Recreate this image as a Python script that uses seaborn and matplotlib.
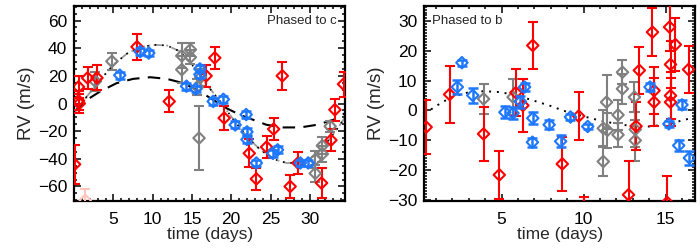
import numpy as np
import pandas as pd
import seaborn as sns
import matplotlib.pyplot as plt
from matplotlib.ticker import MultipleLocator

# ---- panel c (left) ----
c_red_t = [0.05, 0.55, 0.55, 0.65, 1.7, 2.9, 8.0, 12.1, 16.8, 17.9, 19.1, 22.3, 23.2, 24.5, 25.4, 26.5, 27.5, 28.5, 31.5, 32.7, 33.2, 34.3]
c_red_rv = [-44, 12, 2, 0, 18.5, 18.5, 41, 1.5, 20, 33, -10.5, -36, -54.5, -31.5, -18.5, 20, -60, -43, -57.5, -26.5, -4.5, 14]
c_red_err = [14, 8, 7, 7, 8, 9, 9.5, 8, 8, 8, 9, 10, 8, 8, 8, 10, 8, 8, 11, 8, 8, 9]

c_pink_t = [1.4]
c_pink_rv = [-70]
c_pink_err = [8]

c_gray_t = [2.7, 4.8, 13.7, 13.7, 14.8, 14.8, 15.7, 15.9, 16.1, 30.7, 30.7, 31.6, 31.6, 32.6]
c_gray_rv = [16, 30.5, 24.5, 34.5, 39, 33.5, 12, -25, 19, -40.5, -50.5, -36.5, -30.5, -16.5]
c_gray_err = [7, 6, 10, 9, 5, 5, 6, 23, 6, 6, 6, 6, 6, 4]

c_blue_t = [5.8, 8.4, 9.5, 14.3, 15.5, 16.0, 16.0, 17.7, 19.0, 20.5, 21.9, 22.0, 22.0, 23.2, 25.3, 25.9, 28.8, 29.8]
c_blue_rv = [20.5, 37.5, 36.5, 12.5, 10.5, 25, 21, 1.5, 3, -15.5, -8, -20.5, -26, -43, -36, -33.5, -43, -43]
c_blue_err = [2.5] * 18

c_dash_t = [0, 1.6, 3.3, 5.4, 7.5, 9.7, 11.8, 13.9, 16, 17.7, 19.4, 21.1, 22.8, 24.5, 26.6, 28.8, 30.9, 33, 34.5]
c_dash_rv = [-6, 2.6, 8.7, 14.7, 17.8, 19, 17.8, 14.7, 8.7, 2.6, -3.4, -8.2, -11.8, -15.4, -17.3, -17.3, -15.4, -11.8, -7]

c_fit_t = [0, 1.6, 3.3, 5, 6.7, 8.4, 10.1, 11.8, 13.5, 15.2, 16.9, 18.6, 20.3, 22, 23.7, 25.4, 27.1, 28.8, 30.4, 32.1, 33.4, 34.5]
c_fit_rv = [-7, 5, 17, 28, 36, 40.7, 42.4, 42, 37.6, 26.7, 13.5, 1.4, -11.8, -23.9, -33.5, -40.2, -43.1, -42.6, -38.3, -28.7, -19, -10]

# ---- panel b (right) ----
b_red_t = [0.4, 1.83, 3.9, 4.86, 5.87, 6.3, 6.9, 8.7, 9.7, 10.05, 12.74, 13.2, 13.4, 14.2, 14.3, 14.3, 15.1, 15.24, 15.3, 15.3, 15.3, 15.6, 16.4]
b_red_rv = [-5.6, 5.4, -7.9, -21.7, 6.0, 1.7, 21.9, -18, -1.9, -37, -28.4, -5.3, 13.5, 26.4, 6.7, 2.8, -31, 28.1, 15.5, 5, 2.8, 22.2, 13.8]
b_red_err = [9, 9.5, 9, 8, 8, 9, 8, 9, 8, 8, 11.5, 8, 8, 8, 8, 8, 9, 8, 8, 8, 8, 9, 8]

b_gray_t = [3.9, 5.7, 11.2, 11.2, 11.4, 11.45, 12.1, 12.1, 12.37, 12.37, 13.1, 13.15, 13.15]
b_gray_rv = [3.9, 4.5, -17.2, -6, 2.8, -6.7, -1.5, -8.2, 12.9, 7.3, 4.5, -6.4, -10.1]
b_gray_err = [5, 6, 5, 6, 9, 6, 5, 4, 4, 5, 5, 6, 7]

b_blue_t = [2.3, 2.58, 3.24, 5.2, 5.7, 6.15, 6.4, 6.9, 6.88, 7.9, 8.6, 9.2, 10.25, 14.05, 15.2, 16.0, 15.8, 16.45]
b_blue_rv = [7.9, 16.1, 5.1, -0.6, -0.9, 3.0, 7.9, -2.6, -10.7, -4.8, -10.4, -2.2, -5.4, 7.9, -4.5, 1.9, -11.8, -16]
b_blue_err = [2.5, 1, 2.5, 2, 2, 2, 1.5, 2, 1.5, 1.5, 2, 1, 1, 1.5, 1, 1.5, 2, 2.5]

b_fit_t = [0.3, 1.06, 1.87, 2.9, 3.9, 4.9, 5.9, 6.9, 7.9, 8.9, 9.95, 11, 12, 13, 14, 15, 16, 16.8]
b_fit_rv = [-1.1, 1.7, 4.3, 6, 6.5, 6.2, 5.1, 3.4, 1.7, -0.3, -1.9, -3.4, -4.5, -5.3, -5.4, -4.7, -3.4, -2.2]

RED = "#ff0000"
BLUE = "#1e78ff"
GRAY = "#808080"
PINK = "#ffc4bc"

sns.set_theme(style="ticks")
plt.rcParams["font.family"] = ["Liberation Sans", "DejaVu Sans"]


def points(ax, t, rv, err, col, lw=1.5, z=3):
    ax.errorbar(t, rv, yerr=err, fmt="none", ecolor=col, elinewidth=lw,
                capsize=3.5, capthick=lw, zorder=z)
    df = pd.DataFrame({"t": t, "rv": rv})
    sns.scatterplot(data=df, x="t", y="rv", ax=ax, marker="D", s=34,
                    facecolors="none", edgecolor=col, linewidth=1.5,
                    zorder=z + 0.5, legend=False)


def habiller(ax, xlim, ylim, xmaj, ymaj, ymin):
    ax.set_xlim(xlim)
    ax.set_ylim(ylim)
    ax.xaxis.set_major_locator(MultipleLocator(xmaj))
    ax.xaxis.set_minor_locator(MultipleLocator(1))
    ax.yaxis.set_major_locator(MultipleLocator(ymaj))
    ax.yaxis.set_minor_locator(MultipleLocator(ymin))
    ax.tick_params(which="both", direction="in", top=True, right=True,
                   labelsize=12.5, width=1.1, colors="black")
    ax.tick_params(axis="x", pad=8)
    ax.tick_params(axis="y", pad=5)
    ax.tick_params(which="major", length=5)
    ax.tick_params(which="minor", length=2.5)
    for s in ax.spines.values():
        s.set_linewidth(1.6)
        s.set_color("black")
    ax.set_xlabel("time (days)", fontsize=12.5, labelpad=0)
    ax.set_ylabel("RV (m/s)", fontsize=13.5, labelpad=2)


fig = plt.figure(figsize=(7, 2.5), dpi=100)
ax1 = fig.add_axes([0.106, 0.196, 0.387, 0.78])
ax2 = fig.add_axes([0.606, 0.196, 0.387, 0.78])

# left
sns.lineplot(x=c_dash_t, y=c_dash_rv, ax=ax1, color="black", lw=1.5,
             linestyle=(0, (6, 4)), sort=False, zorder=2)
sns.lineplot(x=c_fit_t, y=c_fit_rv, ax=ax1, color="#9a9a9a", lw=1.3,
             linestyle=(0, (5, 2, 1, 2)), sort=False, zorder=2)
sns.lineplot(x=c_fit_t, y=c_fit_rv, ax=ax1, color="black", lw=1.2,
             linestyle=(2, (1, 3.5)), sort=False, zorder=2)
points(ax1, c_pink_t, c_pink_rv, c_pink_err, PINK)
points(ax1, c_gray_t, c_gray_rv, c_gray_err, GRAY)
points(ax1, c_red_t, c_red_rv, c_red_err, RED)
points(ax1, c_blue_t, c_blue_rv, c_blue_err, BLUE, lw=1.8, z=4)
habiller(ax1, (0, 34.5), (-70.5, 70.5), 5, 20, 5)
ax1.set_xticks([5, 10, 15, 20, 25, 30])
ax1.text(0.97, 0.955, "Phased to c", transform=ax1.transAxes, ha="right",
         va="top", fontsize=9.5)

# right
sns.lineplot(x=b_fit_t, y=b_fit_rv, ax=ax2, color="black", lw=1.4,
             linestyle=(0, (1, 3)), sort=False, zorder=2)
points(ax2, b_gray_t, b_gray_rv, b_gray_err, GRAY)
points(ax2, b_red_t, b_red_rv, b_red_err, RED)
points(ax2, b_blue_t, b_blue_rv, b_blue_err, BLUE, lw=1.8, z=4)
habiller(ax2, (0.28, 16.8), (-30.5, 35.2), 5, 10, 1)
ax2.text(0.03, 0.955, "Phased to b", transform=ax2.transAxes, ha="left",
         va="top", fontsize=9.5)

fig.savefig("out.png", dpi=100)
